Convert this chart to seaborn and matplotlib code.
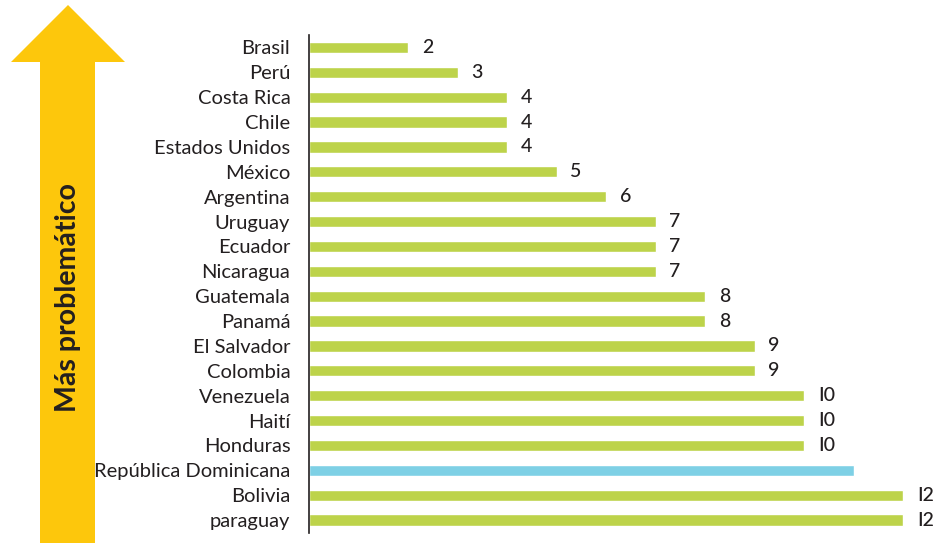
import numpy as np
import pandas as pd
import seaborn as sns
import matplotlib.pyplot as plt
from matplotlib.patches import Polygon

# Data
paises = ['Brasil', 'Perú', 'Costa Rica', 'Chile', 'Estados Unidos', 'México',
          'Argentina', 'Uruguay', 'Ecuador', 'Nicaragua', 'Guatemala', 'Panamá',
          'El Salvador', 'Colombia', 'Venezuela', 'Haití', 'Honduras',
          'República Dominicana', 'Bolivia', 'paraguay']
valores = [2, 3, 4, 4, 4, 5, 6, 7, 7, 7, 8, 8, 9, 9, 10, 10, 10, 11, 12, 12]
etiquetas = ['2', '3', '4', '4', '4', '5', '6', '7', '7', '7', '8', '8', '9', '9',
             'I0', 'I0', 'I0', '', 'I2', 'I2']
destacado = 'República Dominicana'

verde = '#BDD34A'
azul = '#7ED0E5'
amarillo = '#FDC70C'

df = pd.DataFrame({'pais': paises, 'valor': valores})
df['grupo'] = np.where(df['pais'] == destacado, 'b', 'a')

sns.set_style('white')
plt.rcParams['font.family'] = ['Lato', 'DejaVu Sans']

W, H = 943, 543
fig = plt.figure(figsize=(W / 100, H / 100), dpi=100)
ax = fig.add_axes([309 / W, 1 - 532.5 / H, (W - 309) / W, (532.5 - 35) / H])

sns.barplot(data=df, y='pais', x='valor', hue='grupo', palette={'a': verde, 'b': azul},
            dodge=False, legend=False, width=0.45, ax=ax, saturation=1)

ax.set_xlim(0, (W - 309) / 49.5)
ax.set_ylim(19.5, -0.5)
ax.set_xlabel('')
ax.set_ylabel('')
ax.set_xticks([])
ax.tick_params(axis='y', length=0, pad=13.5, labelsize=14.5, labelcolor='#231F20')
for s in ['top', 'right', 'bottom']:
    ax.spines[s].set_visible(False)
ax.spines['left'].set_color('#231F20')
ax.spines['left'].set_linewidth(1.2)

for i, (v, t) in enumerate(zip(valores, etiquetas)):
    if t:
        ax.text(v + 0.28, i, t, va='center', ha='left', fontsize=14,
                fontweight='medium', color='#231F20')

# Yellow arrow on the left
pts = [(68, 5), (125, 62), (95, 62), (95, 543), (40, 543), (40, 62), (11, 62)]
arrow = Polygon([(x / W, 1 - y / H) for x, y in pts], closed=True,
                transform=fig.transFigure, facecolor=amarillo, edgecolor='none')
fig.patches.append(arrow)
fig.text(68 / W, 1 - 297 / H, 'Más problemático', rotation=90, ha='center', va='center',
         fontsize=20.5, fontweight='bold', color='#231F20')

fig.savefig('out.png', dpi=100)
